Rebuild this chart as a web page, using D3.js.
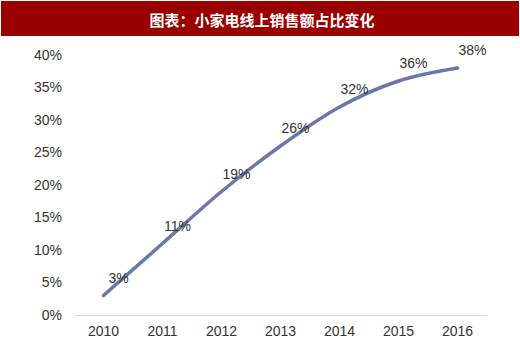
<!DOCTYPE html>
<html>
<head>
<meta charset="utf-8">
<script src="https://d3js.org/d3.v7.min.js"></script>
<style>
body { margin: 0; background: #fff; }
svg { display: block; }
.tick text { font: 14px "Liberation Sans", Arial, sans-serif; fill: #333; }
.lbl { font: 14px "Liberation Sans", Arial, sans-serif; fill: #333; }
</style>
</head>
<body>
<script>
var years = ["2010", "2011", "2012", "2013", "2014", "2015", "2016"];
var share = [0.03, 0.11, 0.19, 0.26, 0.32, 0.36, 0.38];
var yTicks = [0, 0.05, 0.10, 0.15, 0.20, 0.25, 0.30, 0.35, 0.40];
var title = "图表：小家电线上销售额占比变化";

var width = 520, height = 344;
var svg = d3.select("body").append("svg")
    .attr("width", width)
    .attr("height", height);

// title bar
svg.append("rect")
    .attr("x", 1).attr("y", 1)
    .attr("width", 518).attr("height", 35)
    .attr("fill", "#9a0000");
svg.append("text")
    .attr("x", 262).attr("y", 19)
    .attr("text-anchor", "middle")
    .attr("dominant-baseline", "central")
    .attr("fill", "#fff")
    .style("font", "bold 15px 'Noto Sans CJK SC', sans-serif")
    .text(title);

var x = d3.scaleBand().domain(years).range([74, 487]);
var y = d3.scaleLinear().domain([0, 0.4]).range([315, 55]);

// y axis (labels only)
var yAxis = svg.append("g")
    .attr("transform", "translate(62,0)")
    .call(d3.axisLeft(y).tickValues(yTicks).tickFormat(d3.format(".0%")).tickSize(0).tickPadding(0));
yAxis.select(".domain").remove();

// x axis
var xAxis = svg.append("g")
    .attr("transform", "translate(0,315)")
    .call(d3.axisBottom(x).tickSize(0).tickPadding(11));
xAxis.select(".domain").attr("stroke", "#d9d9d9");

var pts = years.map(function(d, i) { return [x(d) + x.bandwidth() / 2, y(share[i])]; });

var line = d3.line().curve(d3.curveMonotoneX);
svg.append("path")
    .attr("d", line(pts))
    .attr("fill", "none")
    .attr("stroke", "#6a77a8")
    .attr("stroke-width", 3.5)
    .attr("stroke-linecap", "round");

svg.selectAll("text.lbl")
    .data(years)
    .enter().append("text")
    .attr("class", "lbl")
    .attr("x", function(d, i) { return pts[i][0] + 15; })
    .attr("y", function(d, i) { return pts[i][1] - 18; })
    .attr("text-anchor", "middle")
    .attr("dominant-baseline", "central")
    .text(function(d, i) { return Math.round(share[i] * 100) + "%"; });
</script>
</body>
</html>
